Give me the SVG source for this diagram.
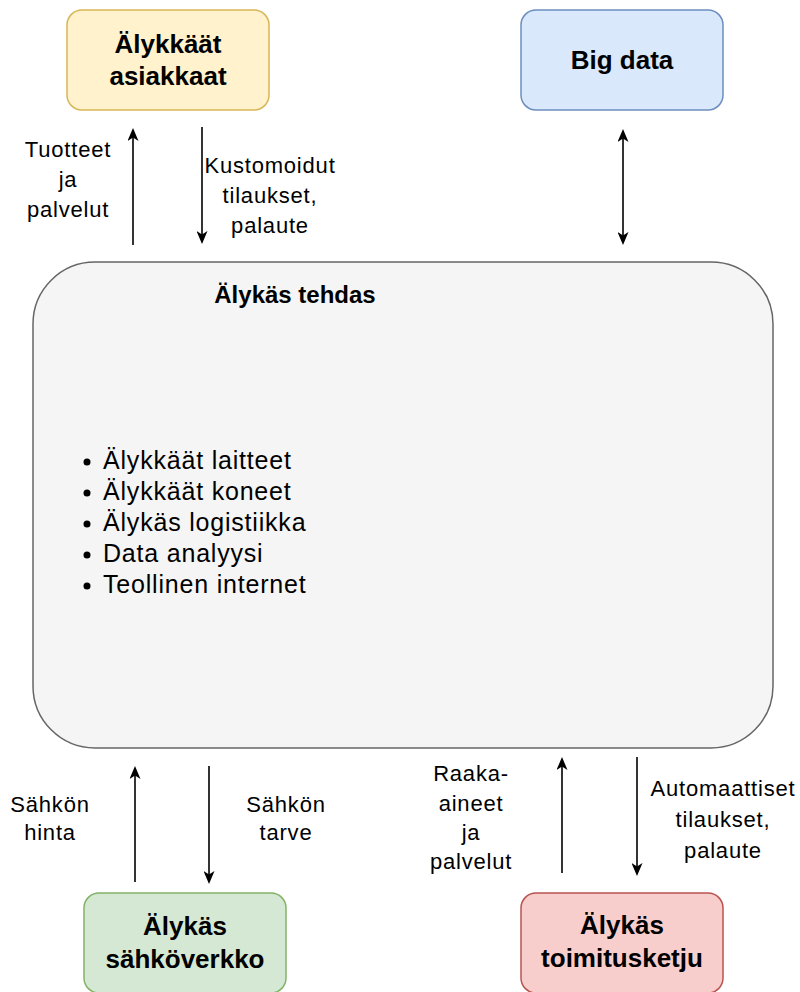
<svg xmlns="http://www.w3.org/2000/svg" width="800" height="992" viewBox="0 0 800 992">
  <defs>
    <marker id="arrow" viewBox="0 0 13 11" refX="10" refY="5.5" markerWidth="13" markerHeight="11" markerUnits="userSpaceOnUse" orient="auto-start-reverse">
      <path d="M0,0 L13,5.5 L0,11 L3.5,5.5 Z" fill="#000"/>
    </marker>
    <style>
      .title { font-family: "Liberation Sans", Arial, sans-serif; font-weight: bold; font-size: 26px; fill: #000; text-anchor: middle; }
      .label { font-family: "Liberation Sans", Arial, sans-serif; font-size: 22px; letter-spacing: 0.8px; fill: #000; text-anchor: middle; }
      .item { font-family: "Liberation Sans", Arial, sans-serif; font-size: 25px; letter-spacing: 0.8px; fill: #000; }
      .conn { stroke: #000; stroke-width: 1.6; fill: none; }
    </style>
  </defs>

  <rect width="800" height="992" fill="#fff"/>

  <!-- central factory block -->
  <g id="factory">
    <rect x="33" y="262" width="740" height="486" rx="62" ry="62" fill="#f5f5f5" stroke="#666666" stroke-width="1.5"/>
    <text class="title" x="295" y="303" style="font-size:24px">Älykäs tehdas</text>
    <g fill="#000">
      <circle cx="87" cy="462" r="3.5"/>
      <circle cx="87" cy="493" r="3.5"/>
      <circle cx="87" cy="524" r="3.5"/>
      <circle cx="87" cy="555" r="3.5"/>
      <circle cx="87" cy="586" r="3.5"/>
    </g>
    <text class="item" x="103" y="469">Älykkäät laitteet</text>
    <text class="item" x="103" y="500">Älykkäät koneet</text>
    <text class="item" x="103" y="531">Älykäs logistiikka</text>
    <text class="item" x="103" y="562">Data analyysi</text>
    <text class="item" x="103" y="593">Teollinen internet</text>
  </g>

  <g id="customers">
    <rect x="67" y="10" width="202" height="100" rx="15" ry="15" fill="#fff2cc" stroke="#d6b656" stroke-width="1.5"/>
    <text class="title" x="168" y="53">Älykkäät</text>
    <text class="title" x="168" y="85">asiakkaat</text>
  </g>

  <g id="bigdata">
    <rect x="521" y="10" width="202" height="100" rx="15" ry="15" fill="#dae8fc" stroke="#6c8ebf" stroke-width="1.5"/>
    <text class="title" x="622" y="69">Big data</text>
  </g>

  <g id="grid">
    <rect x="84" y="893" width="202" height="100" rx="15" ry="15" fill="#d5e8d4" stroke="#82b366" stroke-width="1.5"/>
    <text class="title" x="185" y="935">Älykäs</text>
    <text class="title" x="185" y="968">sähköverkko</text>
  </g>

  <g id="supplychain">
    <rect x="521" y="893" width="202" height="100" rx="15" ry="15" fill="#f8cecc" stroke="#b85450" stroke-width="1.5"/>
    <text class="title" x="622" y="934">Älykäs</text>
    <text class="title" x="622" y="967">toimitusketju</text>
  </g>

  <!-- connectors -->
  <g id="connectors">
    <line class="conn" x1="133" y1="245" x2="133" y2="131" marker-end="url(#arrow)"/>
    <line class="conn" x1="202" y1="127" x2="202" y2="241" marker-end="url(#arrow)"/>
    <line class="conn" x1="623" y1="132" x2="623" y2="242" marker-start="url(#arrow)" marker-end="url(#arrow)"/>
    <line class="conn" x1="135" y1="882" x2="135" y2="769" marker-end="url(#arrow)"/>
    <line class="conn" x1="209" y1="766" x2="209" y2="881" marker-end="url(#arrow)"/>
    <line class="conn" x1="562" y1="873" x2="562" y2="760" marker-end="url(#arrow)"/>
    <line class="conn" x1="637" y1="757" x2="637" y2="873" marker-end="url(#arrow)"/>
  </g>

  <!-- connector labels -->
  <g id="labels">
    <text class="label" x="68" y="157">Tuotteet</text>
    <text class="label" x="68" y="187">ja</text>
    <text class="label" x="68" y="217">palvelut</text>

    <text class="label" x="270" y="173">Kustomoidut</text>
    <text class="label" x="270" y="203">tilaukset,</text>
    <text class="label" x="270" y="233">palaute</text>

    <text class="label" x="50" y="812">Sähkön</text>
    <text class="label" x="50" y="840">hinta</text>

    <text class="label" x="286" y="812">Sähkön</text>
    <text class="label" x="286" y="840">tarve</text>

    <text class="label" x="471" y="781">Raaka-</text>
    <text class="label" x="471" y="811">aineet</text>
    <text class="label" x="471" y="840">ja</text>
    <text class="label" x="471" y="869">palvelut</text>

    <text class="label" x="723" y="796">Automaattiset</text>
    <text class="label" x="723" y="827">tilaukset,</text>
    <text class="label" x="723" y="858">palaute</text>
  </g>
</svg>
